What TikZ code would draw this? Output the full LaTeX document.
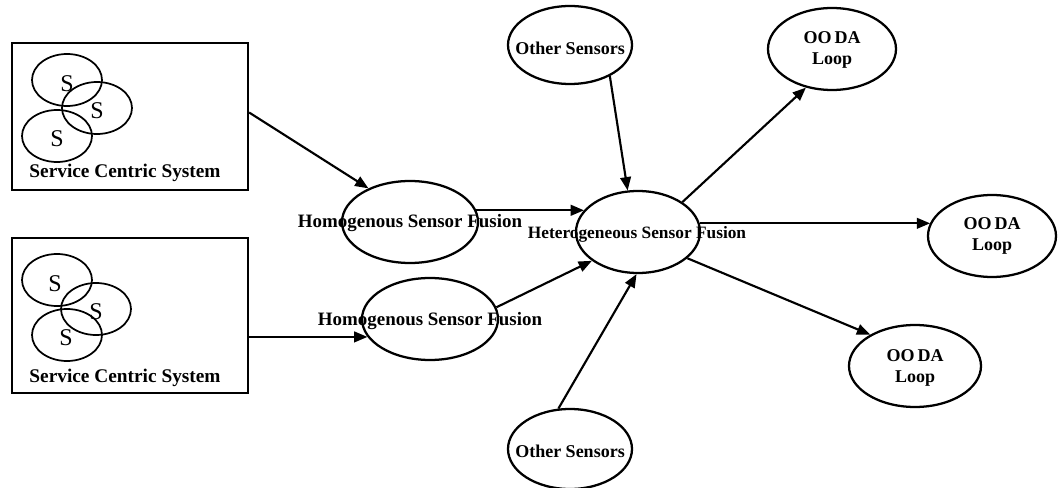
\documentclass[tikz,border=0pt]{standalone}
\usepackage{fontspec}
\setmainfont{Liberation Serif}
\usetikzlibrary{shapes.geometric,arrows.meta}

\tikzset{
  oval/.style={draw, ellipse, line width=1.7pt, inner sep=0pt},
  sysbox/.style={draw, rectangle, line width=1.7pt, inner sep=0pt,
                 minimum width=177pt},
  sensor/.style={draw, ellipse, line width=1.3pt, inner sep=0pt,
                 minimum width=52.5pt, minimum height=39pt},
  stxt/.style={font=\fontsize{18}{19}\selectfont, inner sep=0pt},
  txt/.style={font=\bfseries\fontsize{13.5}{16}\selectfont, inner sep=0pt, align=center},
  arr/.style={-{Triangle[length=10pt,width=8pt]}, line width=1.6pt},
}

\begin{document}
\begin{tikzpicture}[x=0.75pt, y=-0.75pt]
\useasboundingbox (0,0) rectangle (1060,488);

% service centric systems
\node[sysbox, minimum height=110.25pt] (b1) at (130,116.5) {};
\node[sysbox, minimum height=116.25pt] (b2) at (130,315.5) {};

\node[sensor] (s11) at (67,80) {};
\node[sensor] (s12) at (97,108) {};
\node[sensor] (s13) at (57,136) {};
\node[stxt] (t11) at (67,84) {S};
\node[stxt] (t12) at (97,111) {S};
\node[stxt] (t13) at (57,139) {S};
\node[txt, font=\bfseries\fontsize{14.5}{16}\selectfont] (b1t) at (125,173) {Service Centric System};

\node[sensor] (s21) at (57,280) {};
\node[sensor] (s22) at (96,309) {};
\node[sensor] (s23) at (67,335) {};
\node[stxt] (t21) at (55,284) {S};
\node[stxt] (t22) at (96,312) {S};
\node[stxt] (t23) at (66,338) {S};
\node[txt, font=\bfseries\fontsize{14.5}{16}\selectfont] (b2t) at (125,378) {Service Centric System};

% fusion stages
\node[oval, minimum width=102pt, minimum height=61.5pt] (h1) at (410,222) {};
\node[txt, font=\bfseries\fontsize{14.2}{16}\selectfont] (h1t) at (410,223) {Homogenous Sensor Fusion};
\node[oval, minimum width=102pt, minimum height=61.5pt] (h2) at (430,319) {};
\node[txt, font=\bfseries\fontsize{14.2}{16}\selectfont] (h2t) at (430,321) {Homogenous Sensor Fusion};
\node[oval, minimum width=93pt, minimum height=61.5pt] (het) at (638,232) {};
\node[txt, font=\bfseries\fontsize{13}{16}\selectfont] (hett) at (637,234) {Heterogeneous Sensor Fusion};

% other sensors
\node[oval, minimum width=93pt, minimum height=58.5pt] (o1) at (570,45) {};
\node[txt] (o1t) at (570,48) {Other Sensors};
\node[oval, minimum width=93pt, minimum height=60pt] (o2) at (570,449) {};
\node[txt] (o2t) at (570,451) {Other Sensors};

% OODA loops
\node[oval, minimum width=96pt, minimum height=61.5pt] (l1) at (832,49) {};
\node[txt] (l1t) at (832,50) {OO\,DA\\Loop};
\node[oval, minimum width=96pt, minimum height=61.5pt] (l2) at (992,236) {};
\node[txt] (l2t) at (992,236) {OO\,DA\\Loop};
\node[oval, minimum width=99pt, minimum height=61.5pt] (l3) at (915,366) {};
\node[txt] (l3t) at (915,368) {OO\,DA\\Loop};

% connectors
\draw[arr] ([yshift=3pt]b1.east) -- (h1.141);
\draw[arr] (h2.196 -| b2.east) -- (h2.196);
\draw[arr] (h1.10) -- (h1.10 -| het.158);
\draw[arr] (h2.10) -- (het.212);
\draw[arr] (o1.322) -- (het.104);
\draw[arr] (o2.106) -- (het.268);
\draw[arr] (het.34) -- (l1.236);
\draw[arr] (het.8) -- (het.8 -| l2.168);
\draw[arr] (het.332) -- (l3.145);
\end{tikzpicture}
\end{document}
